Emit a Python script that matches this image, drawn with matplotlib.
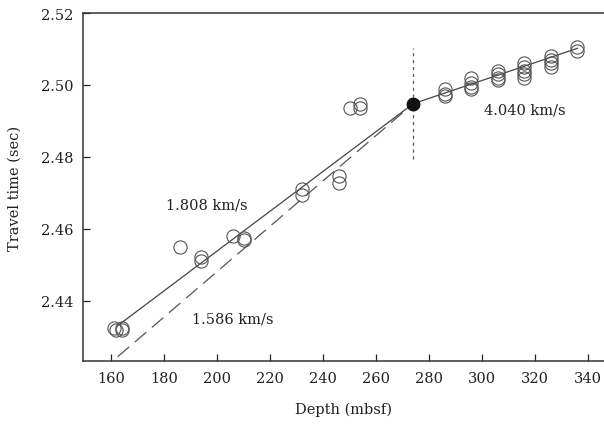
"""Travel time vs depth with interval velocity fits"""

import numpy as np
import matplotlib
matplotlib.use("Agg")
from matplotlib import pyplot as plt

# measured check-shot points (open circles)
depth = [161, 162, 164, 164, 186, 194, 194, 206, 210, 210, 232, 232, 246, 246,
         250, 254, 254,
         286, 286, 286, 296, 296, 296, 296, 306, 306, 306, 306,
         316, 316, 316, 316, 316, 326, 326, 326, 326, 336, 336]
travel_time = [2.4325, 2.432, 2.4325, 2.432, 2.455, 2.4522, 2.451, 2.458, 2.4575, 2.457,
               2.471, 2.4695, 2.4747, 2.4728,
               2.4936, 2.4946, 2.4936,
               2.499, 2.4975, 2.4968, 2.502, 2.5005, 2.4995, 2.499,
               2.504, 2.503, 2.502, 2.5015,
               2.506, 2.505, 2.504, 2.503, 2.502,
               2.508, 2.507, 2.506, 2.505, 2.5105, 2.5095]

# velocity break (filled point)
break_depth = 274
break_time = 2.4948

# fitted segments
fit_upper_depth = [163, 274]
fit_upper_time = [2.4334, 2.4948]
fit_alt_depth = [162.5, 274]
fit_alt_time = [2.4245, 2.4948]
fit_lower_depth = [274, 336]
fit_lower_time = [2.4948, 2.5102]

# vertical marker at the break
marker_time = [2.4795, 2.5102]

plt.rcParams["font.family"] = ["DejaVu Serif"]
ink = "#222222"

fig = plt.figure(figsize=(6.04, 4.27), dpi=100)
ax = fig.add_axes([0.1374, 0.1522, 0.8626, 0.815])

ax.plot(fit_upper_depth, fit_upper_time, color="#444444", lw=0.9)
ax.plot(fit_alt_depth, fit_alt_time, color="#555555", lw=0.9, ls=(0, (12, 6)))
ax.plot(fit_lower_depth, fit_lower_time, color="#444444", lw=0.9)
ax.plot([break_depth, break_depth], marker_time, color="#555555", lw=0.9, ls=(0, (2.5, 3)))

ax.plot(depth, travel_time, ls="none", marker="o", ms=9.5, mfc="none",
        mec="#555555", mew=0.8)
ax.plot([break_depth], [break_time], ls="none", marker="o", ms=9,
        color="#111111")

ax.text(196, 2.4668, "1.808 km/s", ha="center", va="center", fontsize=10.5, color=ink)
ax.text(206, 2.435, "1.586 km/s", ha="center", va="center", fontsize=10.5, color=ink)
ax.text(316, 2.4933, "4.040 km/s", ha="center", va="center", fontsize=10.5, color=ink)

ax.set_xlim(149.4, 346)
ax.set_ylim(2.4233, 2.52)
ax.set_xticks(np.arange(160, 341, 20))
ax.set_yticks([2.44, 2.46, 2.48, 2.50, 2.52])
ax.set_yticklabels(["2.44", "2.46", "2.48", "2.50", "2.52"])
ax.tick_params(direction="in", length=5, width=0.9, labelsize=10.5,
               colors=ink, pad=7)
ax.spines["right"].set_visible(False)
for s in ["left", "bottom", "top"]:
    ax.spines[s].set_color("#333333")
    ax.spines[s].set_linewidth(1.1)

ax.set_xlabel("Depth (mbsf)", fontsize=10.5, color=ink, labelpad=12)
ax.set_ylabel("Travel time (sec)", fontsize=10.5, color=ink, labelpad=14)

fig.savefig("out.png", dpi=100)
